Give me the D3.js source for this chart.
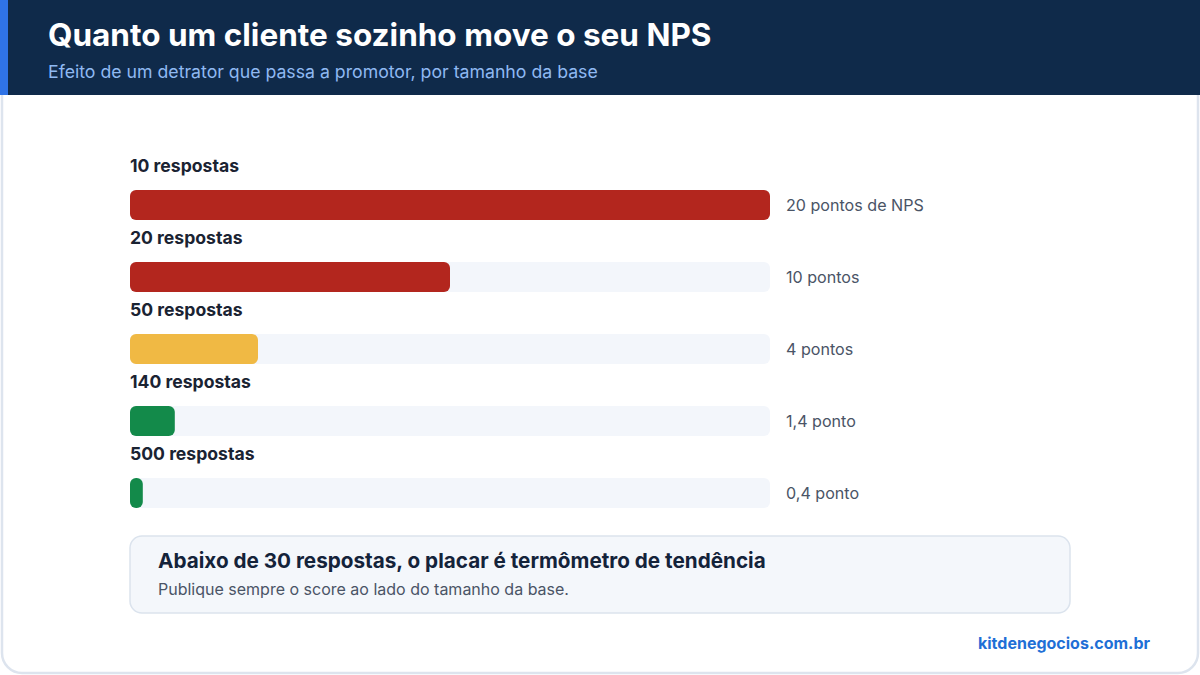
<!DOCTYPE html>
<html>
<head>
<meta charset="utf-8">
<script src="https://cdn.jsdelivr.net/npm/d3@7"></script>
<style>
  html, body { margin: 0; padding: 0; background: #ffffff; }
  svg { display: block; font-family: Inter, "Noto Sans", sans-serif; }
</style>
</head>
<body>
<div id="chart"></div>
<script>
// Data
var categories = ["10 respostas", "20 respostas", "50 respostas", "140 respostas", "500 respostas"];
var values = [20, 10, 4, 1.4, 0.4];
var valueLabels = ["20 pontos de NPS", "10 pontos", "4 pontos", "1,4 ponto", "0,4 ponto"];
var barColors = ["#b3261e", "#b3261e", "#f0b944", "#138a4a", "#138a4a"];

var attrs = {
  svgWidth: 1200,
  svgHeight: 675,
  headerHeight: 95,
  barLeft: 130,
  barWidth: 640,
  firstRowTop: 154,
  rowStep: 72,
  barOffset: 36,
  barHeight: 30
};

var svg = d3.select("#chart").append("svg")
  .attr("width", attrs.svgWidth)
  .attr("height", attrs.svgHeight);

// Card
svg.append("rect")
  .attr("x", 2).attr("y", -30)
  .attr("width", attrs.svgWidth - 4).attr("height", attrs.svgHeight - 2 + 30)
  .attr("rx", 20)
  .attr("fill", "#ffffff")
  .attr("stroke", "#dde4ee")
  .attr("stroke-width", 2.5);

// Header
svg.append("rect")
  .attr("x", 0).attr("y", 0)
  .attr("width", attrs.svgWidth).attr("height", attrs.headerHeight)
  .attr("fill", "#0f2a4a");
svg.append("rect")
  .attr("x", 0).attr("y", 0)
  .attr("width", 8).attr("height", attrs.headerHeight)
  .attr("fill", "#2f73e6");

svg.append("text")
  .attr("x", 48).attr("y", 46)
  .attr("fill", "#ffffff")
  .attr("font-size", 31.5)
  .attr("font-weight", 700)
  .text("Quanto um cliente sozinho move o seu NPS");

svg.append("text")
  .attr("x", 48).attr("y", 78)
  .attr("fill", "#8fb9f2")
  .attr("font-size", 17.7)
  .text("Efeito de um detrator que passa a promotor, por tamanho da base");

// Scales
var x = d3.scaleLinear().domain([0, 20]).range([0, attrs.barWidth]);
var y = d3.scaleBand().domain(categories)
  .range([attrs.firstRowTop, attrs.firstRowTop + attrs.rowStep * categories.length])
  .paddingInner(0).paddingOuter(0);

var rows = svg.selectAll("g.row")
  .data(categories)
  .enter().append("g")
  .attr("class", "row")
  .attr("transform", function (d) { return "translate(" + attrs.barLeft + "," + y(d) + ")"; });

rows.append("text")
  .attr("x", 0).attr("y", 18)
  .attr("fill", "#1a2332")
  .attr("font-size", 17.6)
  .attr("font-weight", 700)
  .text(function (d) { return d; });

rows.append("rect")
  .attr("x", 0).attr("y", attrs.barOffset)
  .attr("width", x(20)).attr("height", attrs.barHeight)
  .attr("rx", 6)
  .attr("fill", "#f3f6fb");

rows.append("rect")
  .attr("x", 0).attr("y", attrs.barOffset)
  .attr("width", function (d, i) { return x(values[i]); })
  .attr("height", attrs.barHeight)
  .attr("rx", 6)
  .attr("fill", function (d, i) { return barColors[i]; });

rows.append("text")
  .attr("x", x(20) + 16)
  .attr("y", attrs.barOffset + attrs.barHeight / 2)
  .attr("dy", "0.35em")
  .attr("fill", "#4a5466")
  .attr("font-size", 16.1)
  .text(function (d, i) { return valueLabels[i]; });

// Note box
svg.append("rect")
  .attr("x", 130).attr("y", 536)
  .attr("width", 940).attr("height", 77)
  .attr("rx", 12)
  .attr("fill", "#f4f7fb")
  .attr("stroke", "#dbe3ed")
  .attr("stroke-width", 1.5);

svg.append("text")
  .attr("x", 158).attr("y", 568)
  .attr("fill", "#14233a")
  .attr("font-size", 20.7)
  .attr("font-weight", 700)
  .text("Abaixo de 30 respostas, o placar é termômetro de tendência");

svg.append("text")
  .attr("x", 158).attr("y", 595)
  .attr("fill", "#4a5466")
  .attr("font-size", 16)
  .text("Publique sempre o score ao lado do tamanho da base.");

// Footer
svg.append("text")
  .attr("x", 1150).attr("y", 649)
  .attr("text-anchor", "end")
  .attr("fill", "#1f6fd6")
  .attr("font-size", 16)
  .attr("font-weight", 700)
  .text("kitdenegocios.com.br");
</script>
</body>
</html>
